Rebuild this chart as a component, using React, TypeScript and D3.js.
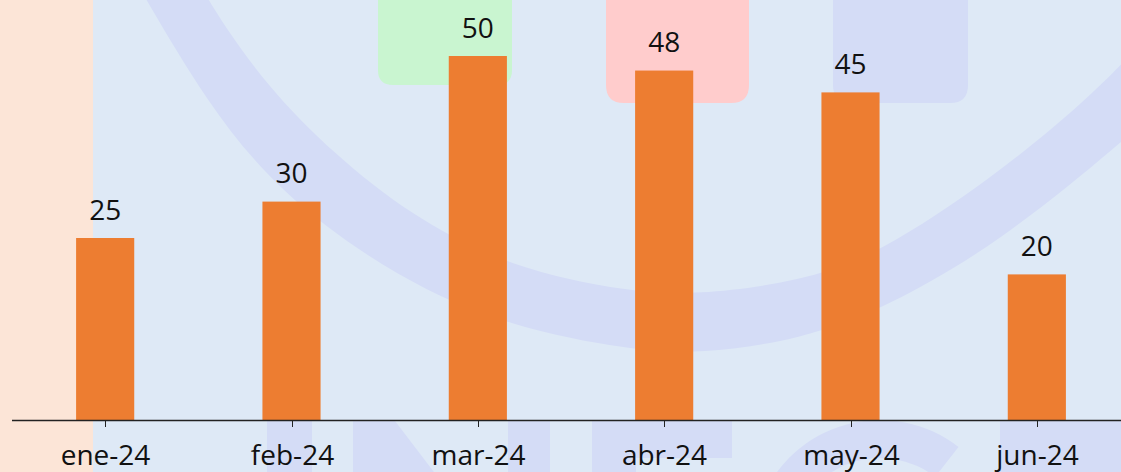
import React from "react";
import * as d3 from "d3";

// ---- data ----
const categories = ["ene-24", "feb-24", "mar-24", "abr-24", "may-24", "jun-24"];
const values = [25, 30, 50, 48, 45, 20];

// ---- layout ----
const W = 1121;
const H = 472;
const baseY = 420;
const axisLeft = 12;
const axisRight = 1130;

// watermark decoration outline points
const ringOuter: [number, number][] = [
  [110, -60], [147, 0], [205, 100], [280, 195], [400, 280], [510, 327], [630, 350],
  [700, 354], [800, 340], [890, 306], [1000, 242], [1121, 143], [1180, 90],
];
const ringInner: [number, number][] = [
  [175, -60], [207, 0], [265, 85], [335, 155], [410, 215], [510, 268], [630, 292],
  [695, 295], [800, 282], [880, 253], [990, 180], [1087, 100], [1140, 45], [1180, 0],
];

export default function App() {
  const x = d3.scaleBand<string>().domain(categories).range([axisLeft, axisRight]).padding(0);
  const y = d3.scaleLinear().domain([0, 60]).range([baseY, baseY - 60 * 7.28]);
  const barW = x.bandwidth() * 0.312;

  const line = d3.line().curve(d3.curveBasis);
  const outerPath = line(ringOuter) || "";
  const innerPath = line([...ringInner].reverse()) || "";
  const ringPath = outerPath + "L" + innerPath.slice(1) + "Z";

  const smallArc = d3.arc()({
    innerRadius: 90,
    outerRadius: 128,
    startAngle: -1.2,
    endAngle: 0.66,
  }) || "";

  const font = "'Open Sans', 'Noto Sans', sans-serif";
  const bg = "#DEE9F6";
  const wm = "#D4DCF6";

  return (
    <div style={{ position: "fixed", left: 0, top: 0 }}>
      <svg width={W} height={H} style={{ display: "block" }}>
        <rect x={0} y={0} width={W} height={H} fill={bg} />
        {/* watermark */}
        <path d={ringPath} fill={wm} />
        <path d="M378,-20 H512 V70 Q512,85 497,85 H393 Q378,85 378,70 Z" fill="#C9F5D0" />
        <path d="M606,-20 H749 V85 Q749,103 731,103 H624 Q606,103 606,85 Z" fill="#FFCCCC" />
        <path d="M833,-20 H968 V85 Q968,103 950,103 H851 Q833,103 833,85 Z" fill={wm} />
        <rect x={267} y={421} width={45} height={60} fill={wm} />
        <path d="M353,421 H395 L440,480 H353 Z" fill={wm} />
        <rect x={508} y={421} width={42} height={60} fill={wm} />
        <path d="M592,421 H732 V458 H636 V480 H592 Z" fill={wm} />
        <path d={smallArc} transform="translate(880,548)" fill={wm} />
        <rect x={1000} y={421} width={130} height={60} fill={wm} />
        <rect x={0} y={0} width={93} height={H} fill="#FCE5D7" />

        {/* bars */}
        {categories.map((c, i) => {
          const cx = (x(c) as number) + x.bandwidth() / 2;
          return (
            <g key={c}>
              <rect
                x={cx - barW / 2}
                y={y(values[i])}
                width={barW}
                height={baseY - y(values[i])}
                fill="#ED7D31"
              />
              <text
                x={cx}
                y={y(values[i]) - 18.5}
                textAnchor="middle"
                fontFamily={font}
                fontSize={28}
                fill="#111"
              >
                {values[i]}
              </text>
            </g>
          );
        })}

        {/* axis */}
        <line x1={axisLeft} x2={W} y1={baseY + 0.5} y2={baseY + 0.5} stroke="#222" strokeWidth={1.3} />
        {categories.map((c) => {
          const cx = Math.round((x(c) as number) + x.bandwidth() / 2) + 0.5;
          return (
            <g key={"t" + c}>
              <line x1={cx} x2={cx} y1={baseY} y2={baseY + 7} stroke="#222" strokeWidth={1} />
              <text
                x={cx}
                y={465}
                textAnchor="middle"
                fontFamily={font}
                fontSize={28}
                fill="#111"
              >
                {c}
              </text>
            </g>
          );
        })}
      </svg>
    </div>
  );
}
